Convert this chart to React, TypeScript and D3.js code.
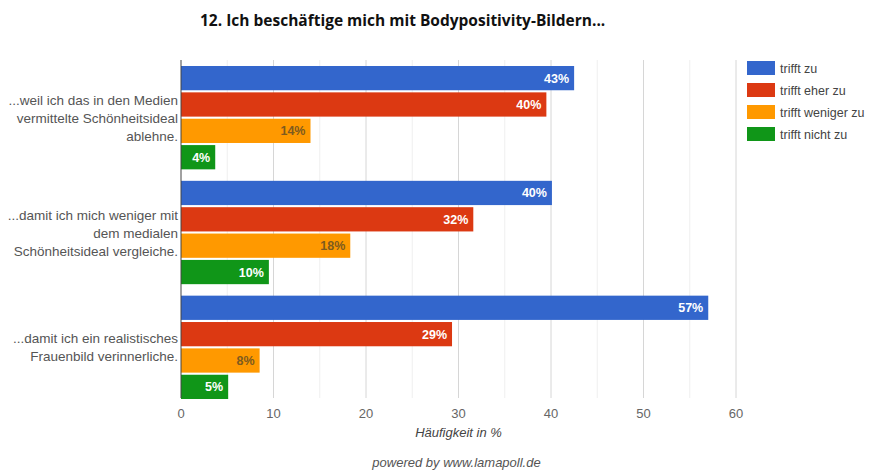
import { useEffect, useRef } from "react";
import * as d3 from "d3";

const categories = [
  ["...weil ich das in den Medien", "vermittelte Schönheitsideal", "ablehne."],
  ["...damit ich mich weniger mit", "dem medialen", "Schönheitsideal vergleiche."],
  ["...damit ich ein realistisches", "Frauenbild verinnerliche."],
];
const seriesNames = ["trifft zu", "trifft eher zu", "trifft weniger zu", "trifft nicht zu"];
const seriesColors = ["#3366cc", "#dc3912", "#ff9900", "#109618"];
const labelColors = ["#ffffff", "#ffffff", "#7d5b1f", "#ffffff"];
// bar lengths, per category
const values = [
  [42.5, 39.5, 14.0, 3.7],
  [40.1, 31.6, 18.3, 9.5],
  [57.0, 29.3, 8.5, 5.1],
];
const valueLabels = [
  ["43%", "40%", "14%", "4%"],
  ["40%", "32%", "18%", "10%"],
  ["57%", "29%", "8%", "5%"],
];
const ticks = [0, 10, 20, 30, 40, 50, 60];
const minorTicks = [5, 15, 25, 35, 45, 55];

const App = () => {
  const ref = useRef<SVGSVGElement>(null);

  useEffect(() => {
    const svg = d3.select(ref.current);
    svg.selectAll("*").remove();
    const font = "Arial, 'Liberation Sans', sans-serif";

    const left = 181, right = 736, top = 60, bottom = 398;
    const x = d3.scaleLinear().domain([0, 60]).range([left, right]);
    const y0 = d3.scaleBand<number>().domain([0, 1, 2]).range([66, 399]).paddingInner(0.1).paddingOuter(0);
    const y1 = d3.scaleBand<number>().domain([0, 1, 2, 3]).range([0, y0.bandwidth()]).paddingInner(0.08);

    svg.append("text")
      .attr("x", 200).attr("y", 26)
      .attr("font-family", "'Open Sans', sans-serif").attr("font-weight", "bold")
      .attr("font-size", 15.5).attr("fill", "#111")
      .text("12. Ich beschäftige mich mit Bodypositivity-Bildern...");

    const grid = svg.append("g");
    grid.selectAll("line.minor").data(minorTicks).join("line")
      .attr("x1", (d) => x(d)).attr("x2", (d) => x(d))
      .attr("y1", top).attr("y2", bottom)
      .attr("stroke", "#efefef");
    grid.selectAll("line.major").data(ticks.slice(1)).join("line")
      .attr("x1", (d) => x(d)).attr("x2", (d) => x(d))
      .attr("y1", top).attr("y2", bottom)
      .attr("stroke", "#d6d6d6");

    const groups = svg.append("g").selectAll("g").data(values).join("g")
      .attr("transform", (_, i) => `translate(0,${y0(i)})`);

    groups.selectAll("rect").data((d) => d).join("rect")
      .attr("x", x(0))
      .attr("y", (_, j) => y1(j)!)
      .attr("width", (d) => x(d) - x(0))
      .attr("height", y1.bandwidth())
      .attr("fill", (_, j) => seriesColors[j]);

    groups.each(function (row, i) {
      d3.select(this).selectAll("text.val").data(row).join("text")
        .attr("x", (d) => x(d) - 5)
        .attr("y", (_, j) => y1(j)! + y1.bandwidth() / 2 + 4.5)
        .attr("text-anchor", "end")
        .attr("font-family", font).attr("font-weight", "bold").attr("font-size", 12.5)
        .attr("fill", (_, j) => labelColors[j])
        .text((_, j) => valueLabels[i][j]);
    });

    svg.append("line")
      .attr("x1", x(0)).attr("x2", x(0)).attr("y1", top).attr("y2", bottom)
      .attr("stroke", "#444");

    categories.forEach((lines, i) => {
      const cy = y0(i)! + y0.bandwidth() / 2;
      const lh = 18;
      const t = svg.append("text")
        .attr("text-anchor", "end").attr("font-family", font)
        .attr("font-size", 13.5).attr("fill", "#555");
      lines.forEach((l, k) => {
        t.append("tspan").attr("x", 178)
          .attr("y", cy + (k - (lines.length - 1) / 2) * lh + 5)
          .text(l);
      });
    });

    svg.append("g").selectAll("text").data(ticks).join("text")
      .attr("x", (d) => x(d)).attr("y", 418)
      .attr("text-anchor", "middle").attr("font-family", font)
      .attr("font-size", 13).attr("fill", "#666")
      .text((d) => d);

    svg.append("text")
      .attr("x", (x(0) + x(60)) / 2).attr("y", 437)
      .attr("text-anchor", "middle").attr("font-family", font)
      .attr("font-style", "italic").attr("font-size", 13).attr("fill", "#444")
      .text("Häufigkeit in %");

    svg.append("text")
      .attr("x", (x(0) + x(60)) / 2 - 2).attr("y", 467)
      .attr("text-anchor", "middle").attr("font-family", font)
      .attr("font-style", "italic").attr("font-size", 13).attr("fill", "#555")
      .text("powered by www.lamapoll.de");

    const legend = svg.append("g").selectAll("g").data(seriesNames).join("g")
      .attr("transform", (_, i) => `translate(747,${61 + i * 22})`);
    legend.append("rect")
      .attr("width", 28).attr("height", 14)
      .attr("fill", (_, i) => seriesColors[i]);
    legend.append("text")
      .attr("x", 33).attr("y", 11.5)
      .attr("font-family", font).attr("font-size", 12.5).attr("fill", "#444")
      .text((d) => d);
  }, []);

  return (
    <div style={{ position: "absolute", left: 0, top: 0, width: 877, height: 472, background: "#fff" }}>
      <svg ref={ref} width={877} height={472} style={{ display: "block" }}></svg>
    </div>
  );
};

export default App;
